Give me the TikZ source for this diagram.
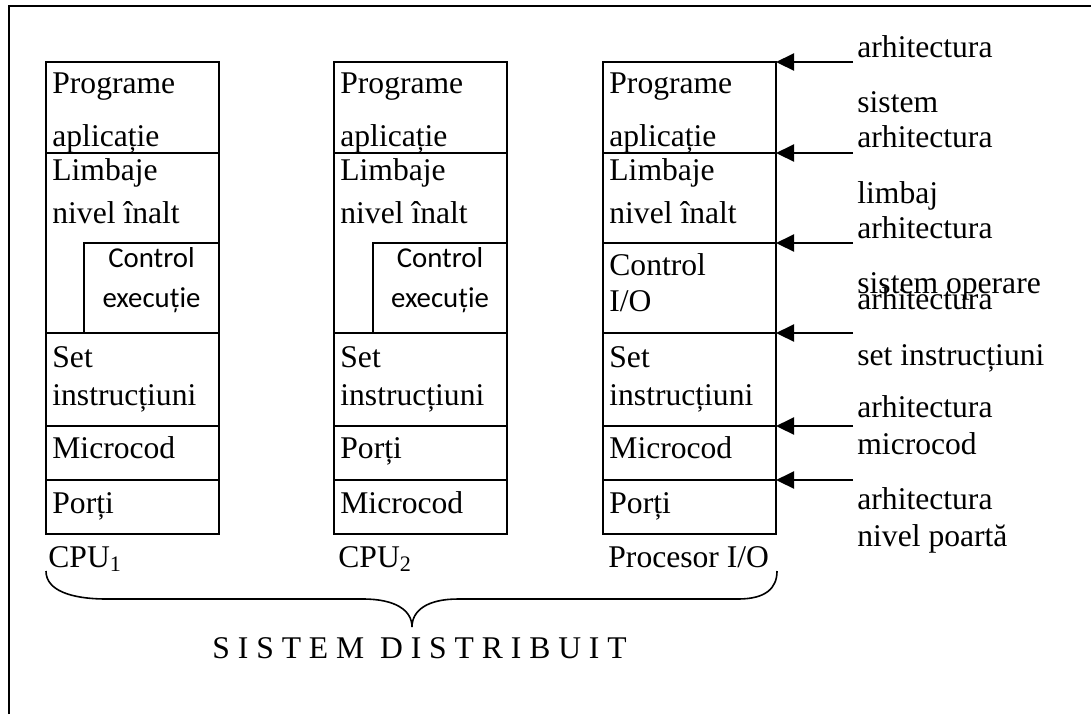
\documentclass[tikz,border=0pt]{standalone}
\usepackage{fontspec}
\setmainfont{Liberation Serif}
\newfontfamily\calibrifont{Carlito}
\usetikzlibrary{arrows.meta}
\begin{document}
\begin{tikzpicture}[x=0.5pt,y=-0.5pt,
  layer/.style n args={2}{draw, line width=1.1pt, inner sep=0pt, outer sep=0pt,
    anchor=north west, minimum width=#1*0.5pt, minimum height=#2*0.5pt},
  txt/.style={inner sep=0pt, anchor=base west, font=\fontsize{15.8}{19}\selectfont},
  ctxt/.style={inner sep=0pt, anchor=base, font=\calibrifont\fontsize{14.4}{17}\selectfont},
  arr/.style={line width=1.1pt, -{Triangle[length=9pt,width=8.5pt]}}]
\useasboundingbox (0,0) rectangle (1091,714);

% outer frame (left and top edges)
\draw[line width=1.1pt] (9,714) -- (9,6) -- (1091,6);

% ---- CPU 1 ----
\node[layer={173}{91}]  (p1) at (46,62)  {};
\node[layer={173}{180}] (l1) at (46,153) {};
\node[layer={135}{90}]  (x1) at (84,243) {};
\node[layer={173}{93}]  (s1) at (46,333) {};
\node[layer={173}{54}]  (m1) at (46,426) {};
\node[layer={173}{54}]  (g1) at (46,480) {};
\node[txt] (p1a) at (52,93)  {Programe};
\node[txt] (p1b) at (52,146) {aplicație};
\node[txt] (l1a) at (52,180) {Limbaje};
\node[txt] (l1b) at (52,223) {nivel înalt};
\node[ctxt] (x1a) at (151.5,267) {Control};
\node[ctxt] (x1b) at (151.5,307) {execuție};
\node[txt] (s1a) at (52,367) {Set};
\node[txt] (s1b) at (52,405) {instrucțiuni};
\node[txt] (m1a) at (52,458) {Microcod};
\node[txt] (g1a) at (52,513) {Porți};
\node[txt] (n1) at (48,567) {CPU\textsubscript{1}};

% ---- CPU 2 ----
\node[layer={173}{91}]  (p2) at (334,62)  {};
\node[layer={173}{180}] (l2) at (334,153) {};
\node[layer={134}{90}]  (x2) at (373,243) {};
\node[layer={173}{93}]  (s2) at (334,333) {};
\node[layer={173}{54}]  (m2) at (334,426) {};
\node[layer={173}{54}]  (g2) at (334,480) {};
\node[txt] (p2a) at (340,93)  {Programe};
\node[txt] (p2b) at (340,146) {aplicație};
\node[txt] (l2a) at (340,180) {Limbaje};
\node[txt] (l2b) at (340,223) {nivel înalt};
\node[ctxt] (x2a) at (440,267) {Control};
\node[ctxt] (x2b) at (440,307) {execuție};
\node[txt] (s2a) at (340,367) {Set};
\node[txt] (s2b) at (340,405) {instrucțiuni};
\node[txt] (m2a) at (340,458) {Porți};
\node[txt] (g2a) at (340,513) {Microcod};
\node[txt] (n2) at (338,567) {CPU\textsubscript{2}};

% ---- I/O processor ----
\node[layer={173}{91}] (p3) at (603,62)  {};
\node[layer={173}{90}] (l3) at (603,153) {};
\node[layer={173}{90}] (o3) at (603,243) {};
\node[layer={173}{93}] (s3) at (603,333) {};
\node[layer={173}{54}] (m3) at (603,426) {};
\node[layer={173}{54}] (g3) at (603,480) {};
\node[txt] (p3a) at (609,93)  {Programe};
\node[txt] (p3b) at (609,146) {aplicație};
\node[txt] (l3a) at (609,180) {Limbaje};
\node[txt] (l3b) at (609,223) {nivel înalt};
\node[txt] (o3a) at (609,275) {Control};
\node[txt] (o3b) at (609,311) {I/O};
\node[txt] (s3a) at (609,367) {Set};
\node[txt] (s3b) at (609,405) {instrucțiuni};
\node[txt] (m3a) at (609,458) {Microcod};
\node[txt] (g3a) at (609,513) {Porți};
\node[txt] (n3) at (608,567) {Procesor I/O};

% ---- architecture level labels ----
\node[txt] (r1)  at (857,57)  {arhitectura};
\node[txt] (r2)  at (857,112) {sistem};
\node[txt] (r3)  at (857,147) {arhitectura};
\node[txt] (r4)  at (857,203) {limbaj};
\node[txt] (r5)  at (857,238) {arhitectura};
\node[txt] (r6)  at (857,293) {sistem operare};
\node[txt] (r7)  at (857,309) {arhitectura};
\node[txt] (r8)  at (857,365) {set instrucțiuni};
\node[txt] (r9)  at (857,417) {arhitectura};
\node[txt] (r10) at (857,454) {microcod};
\node[txt] (r11) at (857,509) {arhitectura};
\node[txt] (r12) at (857,546) {nivel poartă};

% ---- level arrows ----
\coordinate (a1) at (853,62);
\coordinate (a2) at (853,153);
\coordinate (a3) at (853,243);
\coordinate (a4) at (853,333);
\coordinate (a5) at (853,426);
\coordinate (a6) at (853,480);
\draw[arr] (a1) -- (p3.north east);
\draw[arr] (a2) -- (l3.north east);
\draw[arr] (a3) -- (o3.north east);
\draw[arr] (a4) -- (s3.north east);
\draw[arr] (a5) -- (m3.north east);
\draw[arr] (a6) -- (g3.north east);

% ---- brace grouping the three processors ----
\coordinate (bl) at (46,571);
\coordinate (bt) at (412,627);
\coordinate (br) at (777,571);
\draw[line width=0.8pt]
  (bl) .. controls (46,590) and (70,599) .. (107,599) -- (363,599)
       .. controls (395,599) and (412,610) .. (bt)
       .. controls (412,610) and (428,599) .. (458,599) -- (738,599)
       .. controls (766,599) and (777,588) .. (br);
\node[txt, font=\fontsize{15.8}{19}\selectfont\addfontfeature{LetterSpace=25}] (sd) at (212,658) {SISTEM DISTRIBUIT};
\end{tikzpicture}
\end{document}
